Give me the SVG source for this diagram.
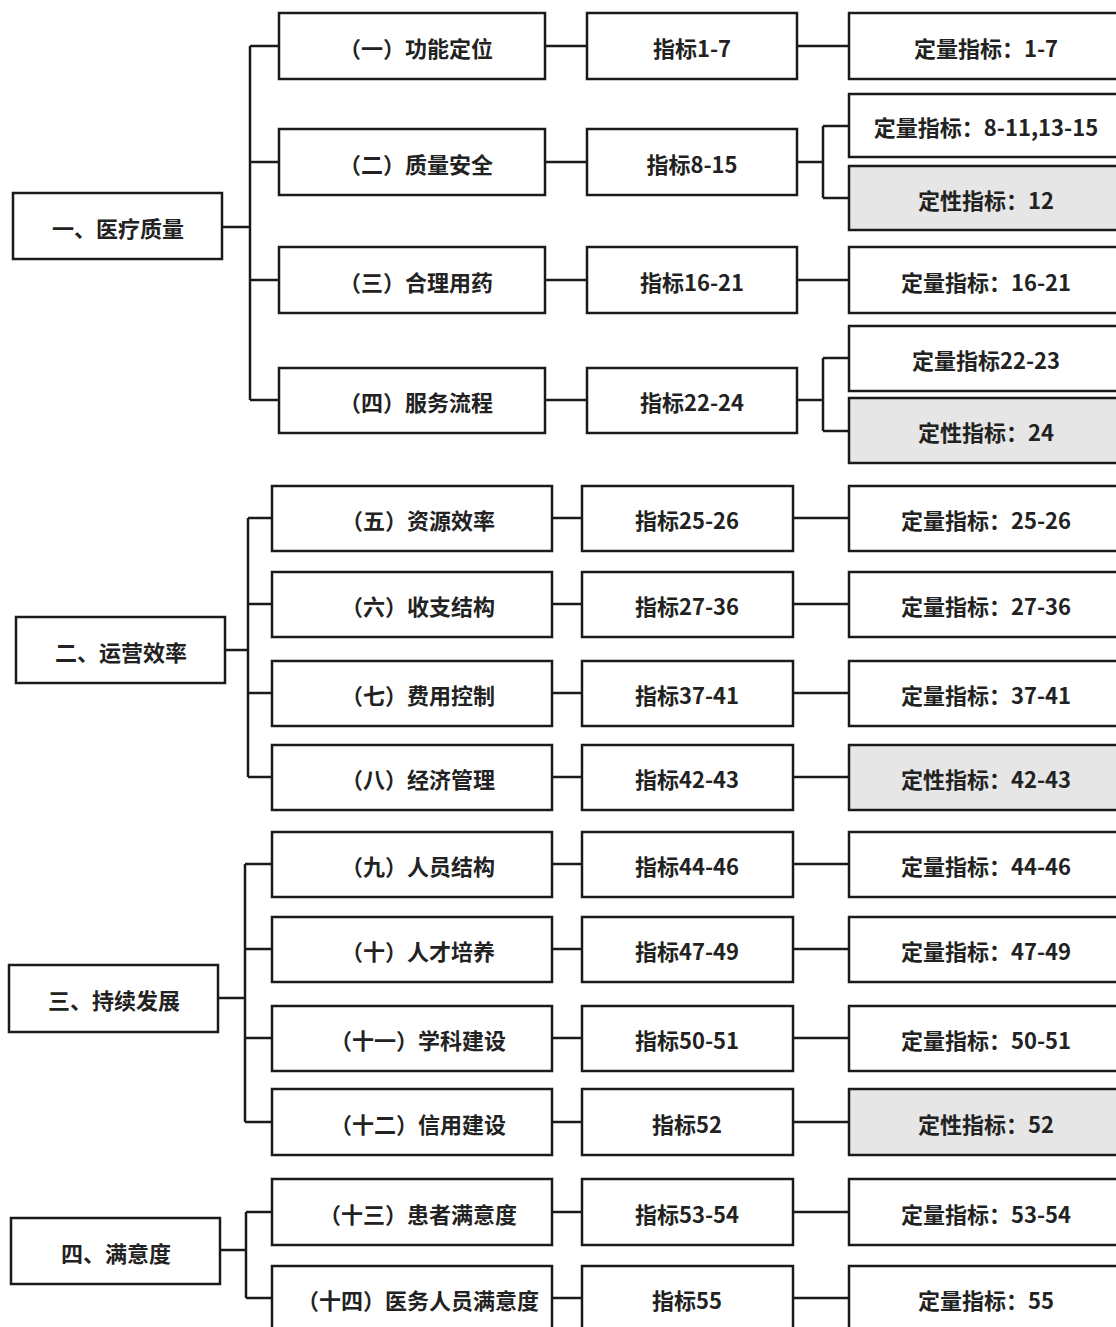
<svg xmlns="http://www.w3.org/2000/svg" width="1116" height="1327" viewBox="0 0 1116 1327">
<style>
rect{fill:#fff;stroke:#1a1a1a;stroke-width:2.5}
rect.g{fill:#e6e6e6}
text{font-family:"Noto Sans CJK SC","Noto Sans",sans-serif;font-weight:bold;font-size:22px;fill:#222;text-anchor:middle}
.c path{fill:none;stroke:#1a1a1a;stroke-width:2.5}
</style>
<rect x="0" y="0" width="1116" height="1327" style="fill:#fff;stroke:none"/>
<g class="c" id="connectors">
<path d="M222 227H250M250 46V400M250 46H279M250 162H279M250 280H279M250 400H279"/>
<path d="M545 46H587M797 46H849M545 162H587M797 162H823M823 126V198M823 126H849M823 198H849M545 280H587M797 280H849M545 400H587M797 400H823M823 358V431M823 358H849M823 431H849"/>
<path d="M225 650H248M248 518V777M248 518H272M248 604H272M248 693H272M248 777H272"/>
<path d="M552 518H582M793 518H849M552 604H582M793 604H849M552 693H582M793 693H849M552 777H582M793 777H849"/>
<path d="M218 998H245M245 864V1122M245 864H272M245 949H272M245 1038H272M245 1122H272"/>
<path d="M552 864H582M793 864H849M552 949H582M793 949H849M552 1038H582M793 1038H849M552 1122H582M793 1122H849"/>
<path d="M220 1250H246M246 1212V1298M246 1212H272M246 1298H272"/>
<path d="M552 1212H582M793 1212H849M552 1298H582M793 1298H849"/>
</g>
<g id="n1"><rect x="13" y="193" width="209" height="66"/><text x="118" y="237">一、医疗质量</text></g>
<g id="n1-1"><rect x="279" y="13" width="266" height="66"/><text x="416" y="57">（一）功能定位</text></g>
<g id="n1-1a"><rect x="587" y="13" width="210" height="66"/><text x="692" y="57">指标1-7</text></g>
<g id="n1-1b"><rect x="849" y="13" width="276" height="66"/><text x="986" y="57">定量指标：1-7</text></g>
<g id="n1-2"><rect x="279" y="129" width="266" height="66"/><text x="416" y="173">（二）质量安全</text></g>
<g id="n1-2a"><rect x="587" y="129" width="210" height="66"/><text x="692" y="173">指标8-15</text></g>
<g id="n1-2b"><rect x="849" y="94" width="276" height="63"/><text x="986" y="136">定量指标：8-11,13-15</text></g>
<g id="n1-2c"><rect class="g" x="849" y="166" width="276" height="64"/><text x="986" y="209">定性指标：12</text></g>
<g id="n1-3"><rect x="279" y="247" width="266" height="66"/><text x="416" y="291">（三）合理用药</text></g>
<g id="n1-3a"><rect x="587" y="247" width="210" height="66"/><text x="692" y="291">指标16-21</text></g>
<g id="n1-3b"><rect x="849" y="247" width="276" height="66"/><text x="986" y="291">定量指标：16-21</text></g>
<g id="n1-4"><rect x="279" y="368" width="266" height="65"/><text x="416" y="411">（四）服务流程</text></g>
<g id="n1-4a"><rect x="587" y="368" width="210" height="65"/><text x="692" y="411">指标22-24</text></g>
<g id="n1-4b"><rect x="849" y="326" width="276" height="65"/><text x="986" y="369">定量指标22-23</text></g>
<g id="n1-4c"><rect class="g" x="849" y="398" width="276" height="65"/><text x="986" y="441">定性指标：24</text></g>

<g id="n2"><rect x="16" y="617" width="209" height="66"/><text x="121" y="661">二、运营效率</text></g>
<g id="n2-5"><rect x="272" y="486" width="280" height="65"/><text x="418" y="529">（五）资源效率</text></g>
<g id="n2-5a"><rect x="582" y="486" width="211" height="65"/><text x="687" y="529">指标25-26</text></g>
<g id="n2-5b"><rect x="849" y="486" width="276" height="65"/><text x="986" y="529">定量指标：25-26</text></g>
<g id="n2-6"><rect x="272" y="572" width="280" height="65"/><text x="418" y="615">（六）收支结构</text></g>
<g id="n2-6a"><rect x="582" y="572" width="211" height="65"/><text x="687" y="615">指标27-36</text></g>
<g id="n2-6b"><rect x="849" y="572" width="276" height="65"/><text x="986" y="615">定量指标：27-36</text></g>
<g id="n2-7"><rect x="272" y="661" width="280" height="65"/><text x="418" y="704">（七）费用控制</text></g>
<g id="n2-7a"><rect x="582" y="661" width="211" height="65"/><text x="687" y="704">指标37-41</text></g>
<g id="n2-7b"><rect x="849" y="661" width="276" height="65"/><text x="986" y="704">定量指标：37-41</text></g>
<g id="n2-8"><rect x="272" y="745" width="280" height="65"/><text x="418" y="788">（八）经济管理</text></g>
<g id="n2-8a"><rect x="582" y="745" width="211" height="65"/><text x="687" y="788">指标42-43</text></g>
<g id="n2-8b"><rect class="g" x="849" y="745" width="276" height="65"/><text x="986" y="788">定性指标：42-43</text></g>

<g id="n3"><rect x="9" y="965" width="209" height="67"/><text x="114" y="1009">三、持续发展</text></g>
<g id="n3-9"><rect x="272" y="832" width="280" height="65"/><text x="418" y="875">（九）人员结构</text></g>
<g id="n3-9a"><rect x="582" y="832" width="211" height="65"/><text x="687" y="875">指标44-46</text></g>
<g id="n3-9b"><rect x="849" y="832" width="276" height="65"/><text x="986" y="875">定量指标：44-46</text></g>
<g id="n3-10"><rect x="272" y="917" width="280" height="65"/><text x="418" y="960">（十）人才培养</text></g>
<g id="n3-10a"><rect x="582" y="917" width="211" height="65"/><text x="687" y="960">指标47-49</text></g>
<g id="n3-10b"><rect x="849" y="917" width="276" height="65"/><text x="986" y="960">定量指标：47-49</text></g>
<g id="n3-11"><rect x="272" y="1006" width="280" height="65"/><text x="418" y="1049">（十一）学科建设</text></g>
<g id="n3-11a"><rect x="582" y="1006" width="211" height="65"/><text x="687" y="1049">指标50-51</text></g>
<g id="n3-11b"><rect x="849" y="1006" width="276" height="65"/><text x="986" y="1049">定量指标：50-51</text></g>
<g id="n3-12"><rect x="272" y="1089" width="280" height="66"/><text x="418" y="1133">（十二）信用建设</text></g>
<g id="n3-12a"><rect x="582" y="1089" width="211" height="66"/><text x="687" y="1133">指标52</text></g>
<g id="n3-12b"><rect class="g" x="849" y="1089" width="276" height="66"/><text x="986" y="1133">定性指标：52</text></g>

<g id="n4"><rect x="11" y="1218" width="209" height="66"/><text x="116" y="1262">四、满意度</text></g>
<g id="n4-13"><rect x="272" y="1179" width="280" height="66"/><text x="418" y="1223">（十三）患者满意度</text></g>
<g id="n4-13a"><rect x="582" y="1179" width="211" height="66"/><text x="687" y="1223">指标53-54</text></g>
<g id="n4-13b"><rect x="849" y="1179" width="276" height="66"/><text x="986" y="1223">定量指标：53-54</text></g>
<g id="n4-14"><rect x="272" y="1266" width="280" height="70"/><text x="418" y="1309">（十四）医务人员满意度</text></g>
<g id="n4-14a"><rect x="582" y="1266" width="211" height="70"/><text x="687" y="1309">指标55</text></g>
<g id="n4-14b"><rect x="849" y="1266" width="276" height="70"/><text x="986" y="1309">定量指标：55</text></g>
</svg>
